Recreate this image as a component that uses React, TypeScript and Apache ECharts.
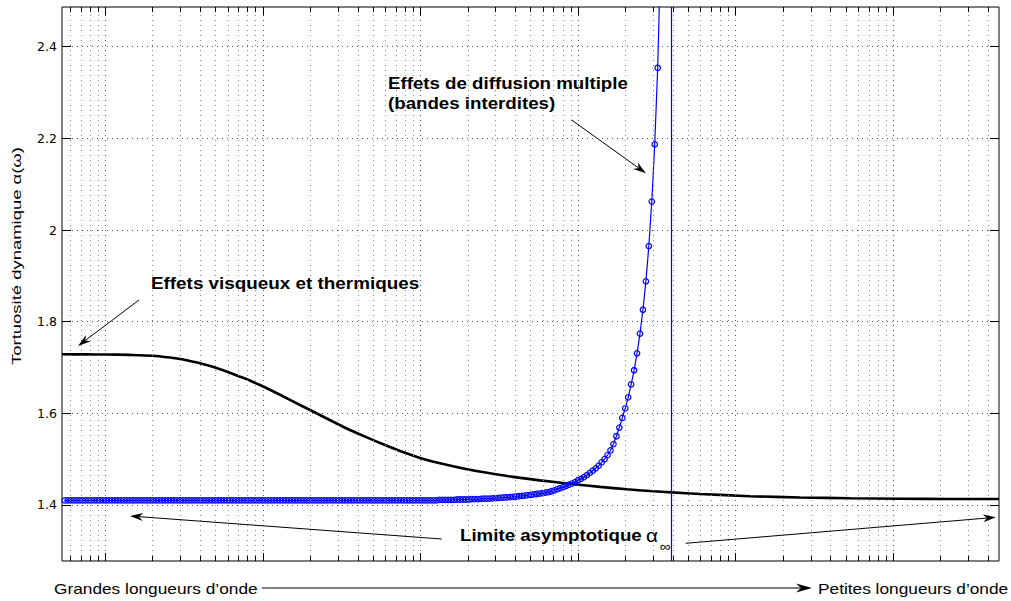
import React, { useEffect, useRef } from 'react';
import * as echarts from 'echarts';

// ---------- data ----------
const yTickValues = [1.4, 1.6, 1.8, 2, 2.2, 2.4];
const xMajorTicks = [1, 10, 100, 1000, 10000, 100000];
const xMinorTicks = [
  0.6, 0.7, 0.8, 0.9,
  2, 3, 4, 5, 6, 7, 8, 9,
  20, 30, 40, 50, 60, 70, 80, 90,
  200, 300, 400, 500, 600, 700, 800, 900,
  2000, 3000, 4000, 5000, 6000, 7000, 8000, 9000,
  20000, 30000, 40000, 50000, 60000, 70000, 80000, 90000,
  200000, 300000, 400000,
];

// black curve (visco-thermal effects)
const blackX = [
  0.531, 0.743, 1, 1.435, 2.007, 2.574, 2.979, 3.446, 3.99, 4.968, 5.92, 7.7, 9.58, 12.84, 17.2, 23.03,
  32.24, 44.45, 59.54, 79.75, 99.3, 133, 197.3, 276.1, 386.3, 573.3, 928.4, 1377, 2043, 2860, 3943,
  5936, 12320, 25590, 53130, 110300, 228900, 468500,
];
const blackY = [
  1.7288, 1.7286, 1.7284, 1.7275, 1.7258, 1.7218, 1.7186, 1.7142, 1.7092, 1.7, 1.6909, 1.676, 1.6618, 1.6405, 1.6182, 1.5964,
  1.5708, 1.5492, 1.5309, 1.5139, 1.5028, 1.491, 1.4781, 1.4692, 1.4613, 1.4537, 1.4454, 1.4395, 1.4343, 1.4305, 1.4275,
  1.424, 1.4192, 1.4165, 1.4148, 1.4137, 1.4132, 1.413,
];

// blue curve (multiple scattering), sampled evenly in log10(x)
const BLUE_LOG_START = -0.2573;
const BLUE_LOG_STEP = 0.018718;
const blueY = [
  1.41, 1.41, 1.41, 1.41, 1.41, 1.41, 1.41, 1.41, 1.41, 1.41, 1.41, 1.41, 1.41, 1.41, 1.41, 1.41, 1.41, 1.41, 1.41, 1.41,
  1.41, 1.41, 1.41, 1.41, 1.41, 1.41, 1.41, 1.41, 1.41, 1.41, 1.41, 1.41, 1.41, 1.41, 1.41, 1.41, 1.41, 1.41, 1.41, 1.41,
  1.41, 1.41, 1.41, 1.41, 1.41, 1.41, 1.41, 1.41, 1.41, 1.41, 1.41, 1.41, 1.41, 1.41, 1.41, 1.41, 1.41, 1.41, 1.41, 1.41,
  1.41, 1.41, 1.41, 1.41, 1.41, 1.41, 1.41, 1.41, 1.41, 1.41, 1.41, 1.41, 1.41, 1.41, 1.41, 1.41, 1.41, 1.41, 1.41, 1.41,
  1.41, 1.41, 1.41, 1.41, 1.41, 1.41, 1.41, 1.41, 1.41, 1.41, 1.41, 1.41, 1.41, 1.41, 1.41, 1.41, 1.41, 1.41, 1.41, 1.41,
  1.41, 1.41, 1.41, 1.41, 1.41, 1.41, 1.41, 1.41, 1.41, 1.41, 1.41, 1.41, 1.41, 1.41, 1.41, 1.41, 1.41, 1.41, 1.41, 1.41,
  1.41, 1.41, 1.41, 1.41, 1.41, 1.41, 1.41,
  1.411, 1.411, 1.411, 1.411, 1.411, 1.411,
  1.412, 1.412, 1.412, 1.412, 1.412,
  1.413, 1.413, 1.413, 1.4135, 1.414, 1.414, 1.414,
  1.4146, 1.415, 1.4155, 1.416, 1.4164, 1.4168, 1.4172, 1.4179, 1.4185, 1.4192,
  1.4199, 1.4205, 1.4214, 1.422, 1.423, 1.424, 1.425, 1.426, 1.427, 1.428,
  1.43, 1.432, 1.4345, 1.437, 1.439, 1.442, 1.4445, 1.447, 1.45, 1.454,
  1.457, 1.461, 1.465, 1.47, 1.475, 1.48, 1.486, 1.493, 1.5, 1.509,
  1.519, 1.533, 1.55, 1.569, 1.59, 1.611, 1.635, 1.663, 1.694, 1.731,
  1.774, 1.826, 1.888, 1.965, 2.062, 2.187, 2.354, 2.6,
];
const poleX = 3926;

// ---------- layout ----------
const X_MIN = 0.5312;
const X_MAX = 468500;
const Y_MIN = 1.2778;
const Y_MAX = 2.4866;
const GRID = { left: 62, right: 12, top: 7, bottom: 40 };
const W = 1011;
const H = 601;
const PLOT_W = W - GRID.left - GRID.right;
const PLOT_H = H - GRID.top - GRID.bottom;
const yPerPx = (Y_MAX - Y_MIN) / PLOT_H;
const decPerPx = (Math.log10(X_MAX) - Math.log10(X_MIN)) / PLOT_W;

function seg(a: number[], b: number[], style: any) {
  return [{ coord: a, lineStyle: style }, { coord: b }];
}

function arrow(x1: number, y1: number, x2: number, y2: number, len = 13, half = 4, notch = 4) {
  const dx = x2 - x1, dy = y2 - y1;
  const L = Math.hypot(dx, dy);
  const ux = dx / L, uy = dy / L;
  const px = -uy, py = ux;
  const bx = x2 - ux * len, by = y2 - uy * len;
  const nx = x2 - ux * (len - notch), ny = y2 - uy * (len - notch);
  return [
    { type: 'line', z: 100, silent: true, shape: { x1, y1, x2: nx, y2: ny }, style: { stroke: '#000', lineWidth: 1 } },
    {
      type: 'polygon', z: 100, silent: true,
      shape: { points: [[x2, y2], [bx + px * half, by + py * half], [nx, ny], [bx - px * half, by - py * half]] },
      style: { fill: '#000' },
    },
  ];
}

function txt(x: number, y: number, text: string, opts: any = {}) {
  return {
    type: 'text', z: 100, silent: true, x, y,
    scaleX: opts.scaleX ?? 1,
    rotation: opts.rotation ?? 0,
    style: {
      text,
      fill: '#000',
      fontFamily: '"Liberation Sans", Arial, sans-serif',
      fontSize: opts.fontSize ?? 17,
      fontWeight: opts.fontWeight ?? 'bold',
      align: opts.align ?? 'left',
      verticalAlign: 'middle',
    },
  };
}

export default function App() {
  const ref = useRef<HTMLDivElement>(null);

  useEffect(() => {
    if (!ref.current) return;
    const chart = echarts.init(ref.current, undefined, { renderer: 'svg' });

    const majorDot = { color: '#555', width: 1, type: [1, 4] };
    const minorDot = { color: '#8a8a8a', width: 1, type: [1, 4] };
    const tickStyle = { color: '#000', width: 1, type: 'solid' };

    const gridLines: any[] = [];
    xMinorTicks.forEach((x) => gridLines.push(seg([x, Y_MIN], [x, Y_MAX], minorDot)));
    xMajorTicks.forEach((x) => gridLines.push(seg([x, Y_MIN], [x, Y_MAX], majorDot)));
    yTickValues.forEach((y) => gridLines.push(seg([X_MIN, y], [X_MAX, y], majorDot)));

    const majLen = 8 * yPerPx;
    const minLen = 5 * yPerPx;
    const yTickFactor = Math.pow(10, 9 * decPerPx);
    xMajorTicks.forEach((x) => {
      gridLines.push(seg([x, Y_MIN], [x, Y_MIN + majLen], tickStyle));
      gridLines.push(seg([x, Y_MAX], [x, Y_MAX - majLen], tickStyle));
    });
    xMinorTicks.forEach((x) => {
      gridLines.push(seg([x, Y_MIN], [x, Y_MIN + minLen], tickStyle));
      gridLines.push(seg([x, Y_MAX], [x, Y_MAX - minLen], tickStyle));
    });
    yTickValues.forEach((y) => {
      gridLines.push(seg([X_MIN, y], [X_MIN * yTickFactor, y], tickStyle));
      gridLines.push(seg([X_MAX, y], [X_MAX / yTickFactor, y], tickStyle));
    });

    const blueData = blueY.map((v, i) => [Math.pow(10, BLUE_LOG_START + i * BLUE_LOG_STEP), v]);
    const blackData = blackX.map((x, i) => [x, blackY[i]]);

    const graphics: any[] = [
      txt(388, 83, 'Effets de diffusion multiple', { scaleX: 1.1 }),
      txt(388, 103, '(bandes interdites)', { scaleX: 1.1 }),
      txt(151, 283, 'Effets visqueux et thermiques', { scaleX: 1.11 }),
      txt(460, 535, 'Limite asymptotique', { scaleX: 1.1 }),
      txt(646, 536, 'α', { fontSize: 18, fontWeight: 'normal', scaleX: 1.15 }),
      txt(660, 546, '∞', { fontSize: 13, fontWeight: 'normal', scaleX: 1.15 }),
      txt(54, 589, 'Grandes longueurs d’onde', { fontSize: 14, fontWeight: 'normal', scaleX: 1.235 }),
      txt(818, 589, 'Petites longueurs d’onde', { fontSize: 14, fontWeight: 'normal', scaleX: 1.235 }),
      txt(17, 256, 'Tortuosité dynamique α(ω)', { fontSize: 13, fontWeight: 'normal', scaleX: 1.42, rotation: Math.PI / 2, align: 'center' }),
      ...arrow(139, 300, 78, 346),
      ...arrow(571.7, 120, 646, 173.3),
      ...arrow(441.7, 539, 130, 516),
      ...arrow(685.7, 543.3, 996, 517.3),
      ...arrow(262, 588, 812, 588, 16, 4.5, 5),
    ];

    chart.setOption({
      animation: false,
      backgroundColor: '#fff',
      grid: {
        ...GRID,
        containLabel: false,
        outerBoundsMode: 'none',
        show: true,
        borderColor: '#000',
        borderWidth: 1,
        backgroundColor: 'transparent',
      },
      xAxis: {
        type: 'log',
        logBase: 10,
        min: X_MIN,
        max: X_MAX,
        axisLine: { show: false },
        axisTick: { show: false },
        axisLabel: { show: false },
        splitLine: { show: false },
        minorTick: { show: false },
      },
      yAxis: {
        type: 'value',
        min: Y_MIN,
        max: Y_MAX,
        axisLine: { show: false },
        axisTick: { show: false },
        splitLine: { show: false },
        axisLabel: {
          show: true,
          customValues: yTickValues,
          color: '#000',
          fontFamily: '"DejaVu Sans", sans-serif',
          fontSize: 12.5,
          margin: 5,
        },
      },
      graphic: graphics,
      series: [
        {
          type: 'line',
          z: 1,
          silent: true,
          data: [[1, 1.5]],
          symbol: 'none',
          lineStyle: { opacity: 0 },
          markLine: {
            silent: true,
            symbol: ['none', 'none'],
            label: { show: false },
            emphasis: { disabled: true },
            data: gridLines,
          },
        },
        {
          type: 'line',
          z: 3,
          silent: true,
          data: blackData,
          smooth: 0.25,
          symbol: 'none',
          lineStyle: { color: '#000', width: 2.6 },
        },
        {
          type: 'line',
          z: 4,
          silent: true,
          clip: true,
          data: blueData,
          symbol: 'circle',
          symbolSize: 5.5,
          showSymbol: true,
          itemStyle: { color: 'rgba(0,0,0,0)', borderColor: '#0000ff', borderWidth: 1.2 },
          lineStyle: { color: '#0000ff', width: 1.2 },
          markLine: {
            silent: true,
            symbol: ['none', 'none'],
            label: { show: false },
            emphasis: { disabled: true },
            data: [{ xAxis: poleX, lineStyle: { color: '#0000ff', width: 1.2, type: 'solid', opacity: 1 } }],
          },
        },
      ],
    });

    return () => chart.dispose();
  }, []);

  return (
    <div
      ref={ref}
      style={{ position: 'absolute', left: 0, top: 0, width: W, height: H, background: '#fff' }}
    />
  );
}
